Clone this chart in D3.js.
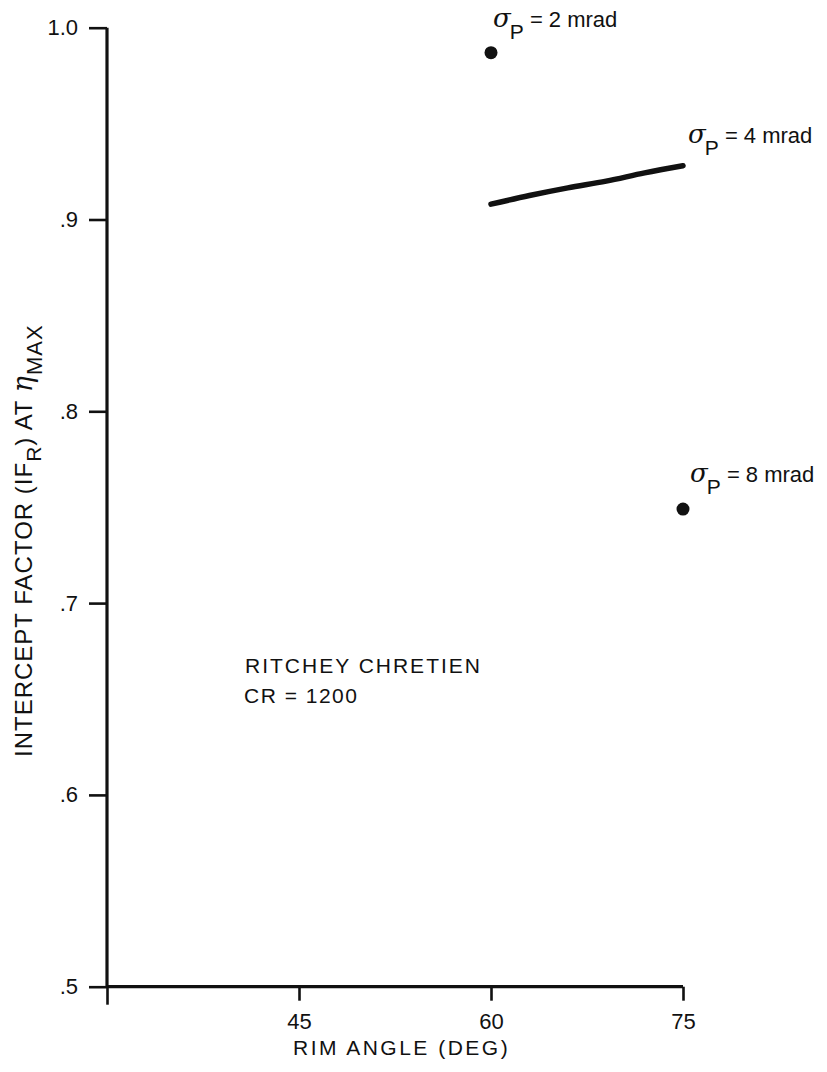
<!DOCTYPE html>
<html>
<head>
<meta charset="utf-8">
<script src="https://cdn.jsdelivr.net/npm/d3@7"></script>
<style>
  html, body { margin: 0; padding: 0; background: #fff; }
  svg { display: block; }
  text { font-family: "Liberation Sans", Arial, Helvetica, sans-serif; fill: #111; }
</style>
</head>
<body>
<svg id="chart" width="827" height="1072"></svg>
<script>
// ---- data ----
const xTicks = [30, 45, 60, 75];
const xTickLabels = ["", "45", "60", "75"];
const yTicks = [0.5, 0.6, 0.7, 0.8, 0.9, 1.0];
const yTickLabels = [".5", ".6", ".7", ".8", ".9", "1.0"];

const sigma2Point = [{ angle: 60, value: 0.987 }];
const sigma4Angles = [60, 63, 66, 69, 72, 75];
const sigma4Values = [0.908, 0.9125, 0.9165, 0.920, 0.9243, 0.928];
const sigma8Point = [{ angle: 75, value: 0.749 }];

const seriesLabels = ["2 mrad", "4 mrad", "8 mrad"];

// ---- layout ----
const svg = d3.select("#chart");
const x = d3.scaleLinear().domain([30, 75]).range([107, 683]);
const y = d3.scaleLinear().domain([0.5, 1.0]).range([986.7, 27.7]);

// axes
const xAxis = d3.axisBottom(x)
  .tickValues(xTicks)
  .tickSize(14)
  .tickPadding(13)
  .tickFormat((d, i) => xTickLabels[i]);
const yAxis = d3.axisLeft(y)
  .tickValues(yTicks)
  .tickSize(18)
  .tickPadding(11)
  .tickFormat((d, i) => yTickLabels[i]);

const gx = svg.append("g").attr("transform", `translate(0,${y(0.5)})`).call(xAxis);
const gy = svg.append("g").attr("transform", `translate(${x(30)},0)`).call(yAxis);

[gx, gy].forEach(g => {
  g.select(".domain").attr("stroke", "#111").attr("stroke-width", 3.2);
  g.selectAll(".tick line").attr("stroke", "#111").attr("stroke-width", 2.6);
  g.selectAll(".tick text")
    .style("font-family", '"Liberation Sans", Arial, sans-serif')
    .style("font-size", "22px")
    .attr("fill", "#111");
});
gx.selectAll(".tick").filter(d => d === 30).select("line").attr("y2", 18);
gx.select(".domain").attr("d", `M${x(30)},0H${x(75)}`);
gy.select(".domain").attr("d", `M0,${y(0.5)}V${y(1.0)}`);

// ---- series ----
const line = d3.line()
  .x((d, i) => x(sigma4Angles[i]))
  .y(d => y(d))
  .curve(d3.curveMonotoneX);

svg.append("path")
  .datum(sigma4Values)
  .attr("d", line)
  .attr("fill", "none")
  .attr("stroke", "#111")
  .attr("stroke-width", 5.5)
  .attr("stroke-linecap", "round");

svg.selectAll("circle.p2").data(sigma2Point).enter().append("circle")
  .attr("cx", d => x(d.angle)).attr("cy", d => y(d.value)).attr("r", 6.5).attr("fill", "#111");
svg.selectAll("circle.p8").data(sigma8Point).enter().append("circle")
  .attr("cx", d => x(d.angle)).attr("cy", d => y(d.value)).attr("r", 6.5).attr("fill", "#111");

// ---- series labels ----
function sigmaLabel(px, py, txt) {
  const t = svg.append("text").attr("x", px).attr("y", py).style("font-size", "22px");
  t.append("tspan").text("σ")
    .style("font-family", '"DejaVu Serif", "Liberation Serif", serif')
    .style("font-style", "italic").style("font-size", "26px");
  t.append("tspan").text("P").attr("dx", -1).attr("dy", 12).style("font-size", "21px");
  t.append("tspan").text(" = " + txt).attr("dy", -12).style("font-size", "22px");
}
sigmaLabel(493, 27, seriesLabels[0]);
sigmaLabel(688, 143, seriesLabels[1]);
sigmaLabel(690, 482, seriesLabels[2]);

// ---- annotation ----
svg.append("text").attr("x", 245).attr("y", 673)
  .style("font-size", "21px").style("letter-spacing", "2px")
  .text("RITCHEY CHRETIEN");
svg.append("text").attr("x", 244).attr("y", 703)
  .style("font-size", "21px").style("letter-spacing", "1.5px")
  .text("CR = 1200");

// ---- axis titles ----
svg.append("text").attr("x", 293).attr("y", 1055)
  .style("font-size", "21px").style("letter-spacing", "2.5px")
  .text("RIM ANGLE (DEG)");

const yt = svg.append("text")
  .attr("transform", "translate(32,757) rotate(-90)")
  .attr("x", 0).attr("y", 0)
  .style("font-size", "24px").style("letter-spacing", "1px");
yt.append("tspan").text("INTERCEPT FACTOR (IF");
yt.append("tspan").text("R").attr("dy", 9).style("font-size", "21px");
yt.append("tspan").text(") AT ").attr("dy", -9);
yt.append("tspan").text("η")
  .style("font-family", '"DejaVu Serif", "Liberation Serif", serif')
  .style("font-style", "italic").style("font-size", "27px");
yt.append("tspan").text("MAX").attr("dy", 10).style("font-size", "22px");
</script>
</body>
</html>
